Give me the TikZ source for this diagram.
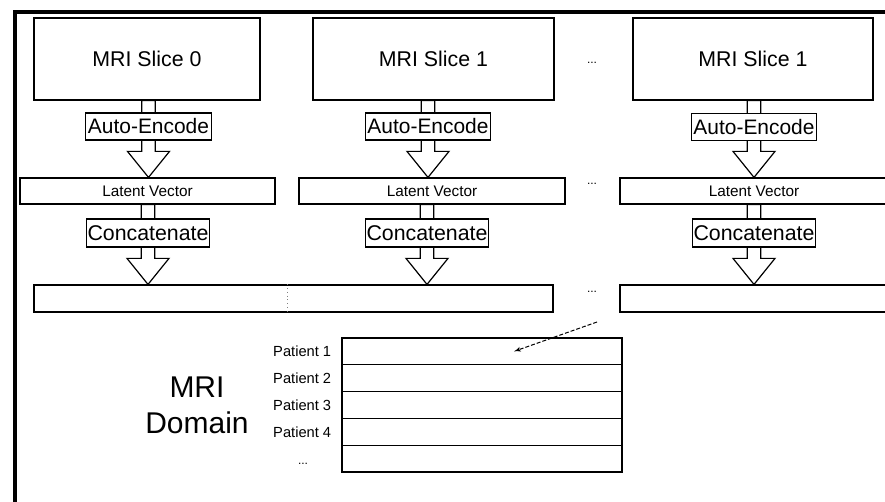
\documentclass[tikz,border=0pt]{standalone}
\usepackage{fontspec}
\setmainfont{Liberation Sans}
\usepackage{tikz}
\usetikzlibrary{positioning,arrows,calc,backgrounds}
\tikzset{
    x=0.75pt,
    y=-0.75pt,
    box/.style = {
        draw,
        shape=rectangle,
        inner sep=0pt,
        line width=0.9pt
    },
    slice/.style = {
        box,
        minimum height=61.5pt,
        font=\fontsize{16}{19}\selectfont
    },
    encode/.style = {
        box,
        fill=white,
        minimum width=94pt,
        minimum height=20.25pt,
        font=\fontsize{15.7}{18}\selectfont
    },
    latent/.style = {
        box,
        minimum height=19.5pt,
        font=\fontsize{11.5}{14}\selectfont
    },
    concat/.style = {
        box,
        fill=white,
        minimum width=92.25pt,
        minimum height=21pt,
        font=\fontsize{16}{19}\selectfont
    },
    merged/.style = {
        box,
        minimum height=20.25pt
    },
    record/.style = {
        box,
        minimum width=210pt,
        minimum height=20.1pt
    },
    patient/.style = {
        inner sep=1pt,
        font=\fontsize{11}{13}\selectfont
    },
    dots/.style = {
        anchor=base,
        font=\fontsize{9}{10}\selectfont
    },
    hollow/.style = {
        draw,
        fill=white,
        line width=0.9pt,
        line join=miter
    },
    >=latex',
}
% wide open arrow, x taken from #1, from #2 down to #3
\newcommand{\hollowarrow}[3]{%
    \path[hollow] let \p1=(#1 |- #2.south), \p2=(#1 |- #3.north) in
        (\x1-5pt,\y1) -- (\x1-5pt,\y2+19.5pt) -- (\x1-15.75pt,\y2+19.5pt)
        -- (\x1,\y2) -- (\x1+15.75pt,\y2+19.5pt) -- (\x1+5pt,\y2+19.5pt)
        -- (\x1+5pt,\y1) -- cycle;}

\begin{document}
\begin{tikzpicture}
                \useasboundingbox (0,0) rectangle (885,502);
                \draw[line width=3pt] (14.5,506) |- (890,12.5);

                \node[slice, minimum width=169.5pt] (slice0) at (147,59) {MRI Slice 0};
                \node[slice, minimum width=180.75pt] (slice1) at (433.5,59) {MRI Slice 1};
                \node[slice, minimum width=180pt] (slice2) at (753,59) {MRI Slice 1};

                \node[encode] (enc0) at (148.5,126.5) {Auto-Encode};
                \node[encode] (enc1) at (428,126.5) {Auto-Encode};
                \node[encode] (enc2) at (754,127) {Auto-Encode};

                \node[latent, minimum width=191.25pt] (lat0) at (147.5,191) {Latent Vector};
                \node[latent, minimum width=199.5pt] (lat1) at (432,191) {Latent Vector};
                \node[latent, minimum width=201pt] (lat2) at (754,191) {Latent Vector};

                \node[concat] (cat0) at (148,233) {Concatenate};
                \node[concat] (cat1) at (427,233) {Concatenate};
                \node[concat] (cat2) at (754,233) {Concatenate};

                \node[merged, minimum width=389.25pt] (row0) at (293.5,298.5) {};
                \node[merged, minimum width=201pt] (row2) at (754,298.5) {};

                \node[dots] (gap0) at (592,64) {...};
                \node[dots] (gap1) at (592,185) {...};
                \node[dots] (gap2) at (592,292) {...};

                \begin{pgfonlayer}{background}
                \hollowarrow{enc0}{slice0}{lat0}
                \hollowarrow{enc1}{slice1}{lat1}
                \hollowarrow{enc2}{slice2}{lat2}
                \hollowarrow{cat0}{lat0}{row0}
                \hollowarrow{cat1}{lat1}{row0}
                \hollowarrow{cat2}{lat2}{row2}
                \end{pgfonlayer}

                \path[draw, dotted, gray, line width=0.8pt] ($(row0.north west)!0.489!(row0.north east)$) -- ($(row0.south west)!0.489!(row0.south east)$);

                \node[record] (rec1) at (482,351.4) {};
                \node[record] (rec2) at (482,378.2) {};
                \node[record] (rec3) at (482,405) {};
                \node[record] (rec4) at (482,431.8) {};
                \node[record] (rec5) at (482,458.6) {};

                \node[patient, left=6.5pt of rec1] (pat1) {Patient 1};
                \node[patient, left=6.5pt of rec2] (pat2) {Patient 2};
                \node[patient, left=6.5pt of rec3] (pat3) {Patient 3};
                \node[patient, left=6.5pt of rec4] (pat4) {Patient 4};
                \node[dots] (pat5) at (303,464) {...};

                \node[align=center, font=\fontsize{22.5}{27}\selectfont] (domain) at (197,405) {MRI\\Domain};

                \coordinate (from) at (597,322);
                \path[draw, dash pattern=on 3pt off 1.5pt, line width=0.75pt, ->] (from) -- ($(rec1.center)+(32,0)$);
            \end{tikzpicture}
\end{document}
